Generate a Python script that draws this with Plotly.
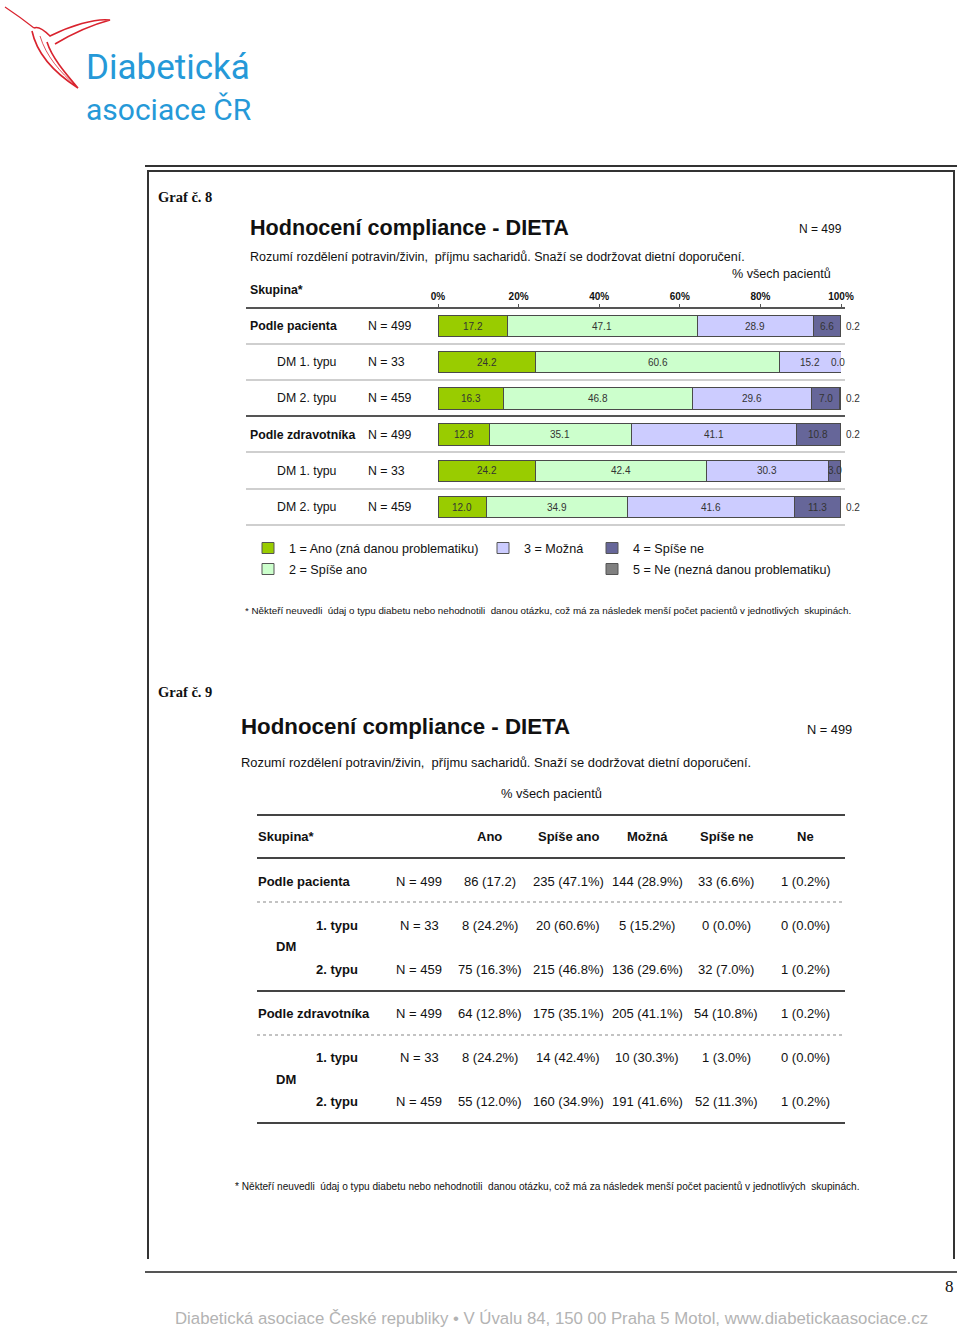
import plotly.graph_objects as go

W, H = 960, 1329
SANS = "Liberation Sans, Arial, sans-serif"
SERIF = "Liberation Serif, Times New Roman, serif"
LOGO = "Roboto, Liberation Sans Narrow, sans-serif"

# ---------------- data ----------------
groups = ["Podle pacienta", "DM 1. typu", "DM 2. typu",
          "Podle zdravotníka", "DM 1. typu", "DM 2. typu"]
group_bold = [True, False, False, True, False, False]
group_n = ["N = 499", "N = 33", "N = 459", "N = 499", "N = 33", "N = 459"]

series_names = ["Ano", "Spíše ano", "Možná", "Spíše ne", "Ne"]
legend_labels = ["1 = Ano (zná danou problematiku)", "2 = Spíše ano", "3 = Možná",
                 "4 = Spíše ne", "5 = Ne (nezná danou problematiku)"]
colors = ["#99CC00", "#CCFFCC", "#CCCCFF", "#666699", "#808080"]

pct_ano = [17.2, 24.2, 16.3, 12.8, 24.2, 12.0]
pct_spise_ano = [47.1, 60.6, 46.8, 35.1, 42.4, 34.9]
pct_mozna = [28.9, 15.2, 29.6, 41.1, 30.3, 41.6]
pct_spise_ne = [6.6, 0.0, 7.0, 10.8, 3.0, 11.3]
pct_ne = [0.2, 0.0, 0.2, 0.2, 0.0, 0.2]

cnt_ano = [86, 8, 75, 64, 8, 55]
cnt_spise_ano = [235, 20, 215, 175, 14, 160]
cnt_mozna = [144, 5, 136, 205, 10, 191]
cnt_spise_ne = [33, 0, 32, 54, 1, 52]
cnt_ne = [1, 0, 1, 1, 0, 1]

tick_vals = [0, 20, 40, 60, 80, 100]
tick_labels = ["0%", "20%", "40%", "60%", "80%", "100%"]

table_groups = ["Podle pacienta", "1. typu", "2. typu", "Podle zdravotníka", "1. typu", "2. typu"]

pcts = [pct_ano, pct_spise_ano, pct_mozna, pct_spise_ne, pct_ne]
cnts = [cnt_ano, cnt_spise_ano, cnt_mozna, cnt_spise_ne, cnt_ne]

# ---------------- helpers ----------------
ann = []
shapes = []


def px(x):
    return x / W


def py(y):
    return 1 - y / H


def text(x, y, s, size, color="#111", anchor="left", family=SANS, bold=False):
    if bold:
        s = "<b>" + s + "</b>"
    if anchor == "left":
        x -= 2
    ann.append(dict(x=px(x), y=py(y), xref="paper", yref="paper", text=s,
                    showarrow=False, xanchor=anchor, yanchor="middle",
                    font=dict(size=size, color=color, family=family)))


def hline(x0, x1, y, color="#444", width=2, dash=None):
    ln = dict(color=color, width=width)
    if dash:
        ln["dash"] = dash
    shapes.append(dict(type="line", xref="paper", yref="paper", x0=px(x0), x1=px(x1),
                       y0=py(y), y1=py(y), line=ln))


def vline(x, y0, y1, color="#444", width=2):
    shapes.append(dict(type="line", xref="paper", yref="paper", x0=px(x), x1=px(x),
                       y0=py(y0), y1=py(y1), line=dict(color=color, width=width)))


def rect(x0, y0, x1, y1, fill, line="#444"):
    shapes.append(dict(type="rect", xref="paper", yref="paper", x0=px(x0), x1=px(x1),
                       y0=py(y1), y1=py(y0), fillcolor=fill, line=dict(color=line, width=1)))


def path(pts_cmd, color="#d9232e", width=1.6):
    shapes.append(dict(type="path", xref="paper", yref="paper", path=pts_cmd,
                       line=dict(color=color, width=width)))


def P(x, y):
    return f"{px(x):.5f},{py(y):.5f}"


# ---------------- figure: stacked bars ----------------
fig = go.Figure()
rows = list(range(len(groups)))
for k, name in enumerate(series_names):
    fig.add_trace(go.Bar(
        y=rows, x=pcts[k], name=name, orientation="h",
        marker=dict(color=colors[k], line=dict(color="#4a4a4a", width=1)),
        width=0.59, showlegend=False, textposition="none", hoverinfo="skip"))

for i in rows:
    cum = 0.0
    for k in range(5):
        v = pcts[k][i]
        if k < 4:
            xs = -3 if (k == 3 and v == 0) else 0
            ann.append(dict(x=cum + v / 2, y=i, xref="x", yref="y", text=f"{v:.1f}",
                            showarrow=False, xanchor="center", yanchor="middle", xshift=xs,
                            font=dict(size=10, color="#333", family=SANS)))
        elif v > 0:
            ann.append(dict(x=cum + v, y=i, xref="x", yref="y", text=f"{v:.1f}",
                            showarrow=False, xanchor="left", yanchor="middle", xshift=3,
                            font=dict(size=10, color="#333", family=SANS)))
        cum += v
    ann.append(dict(x=px((250 if group_bold[i] else 277) - 2), y=i, xref="paper", yref="y",
                    text=("<b>%s</b>" % groups[i]) if group_bold[i] else groups[i],
                    showarrow=False, xanchor="left", yanchor="middle",
                    font=dict(size=12.3, color="#111", family=SANS)))
    ann.append(dict(x=px(366), y=i, xref="paper", yref="y", text=group_n[i],
                    showarrow=False, xanchor="left", yanchor="middle",
                    font=dict(size=12.3, color="#111", family=SANS)))

# ---------------- page frame ----------------
hline(145, 957, 166, color="#333", width=2)
hline(147, 955, 171, color="#333", width=2)
vline(148, 171, 1259, color="#333", width=2)
vline(954, 171, 1259, color="#333", width=2)
hline(145, 957, 1272, color="#555", width=2)
text(949, 1286, "8", 17, color="#111", anchor="center", family=SERIF)
text(551, 1318, "Diabetická asociace České republiky • V Úvalu 84, 150 00 Praha 5 Motol, www.diabetickaasociace.cz",
     16.8, color="#b3b3b3", anchor="center")

# ---------------- logo ----------------
text(86, 67, "Diabetická", 35, color="#2599d8", family=LOGO)
text(86, 110, "asociace ČR", 30, color="#2599d8", family=LOGO)
path("M " + P(5, 7) + " Q " + P(20, 17) + " " + P(34, 28), width=1.2)
path("M " + P(34, 28) + " C " + P(38, 26) + " " + P(44, 30) + " " + P(50, 36)
     + " C " + P(70, 26) + " " + P(95, 18) + " " + P(110, 20)
     + " C " + P(95, 24) + " " + P(75, 32) + " " + P(55, 44), width=1.6)
path("M " + P(32, 31) + " C " + P(36, 50) + " " + P(50, 70) + " " + P(78, 88)
     + " C " + P(66, 74) + " " + P(52, 58) + " " + P(47, 42), width=1.6)
path("M " + P(40, 36) + " C " + P(46, 56) + " " + P(60, 72) + " " + P(76, 86), width=0.8)

# ---------------- Graf 8 texts ----------------
text(158, 197, "Graf č. 8", 14.5, family=SERIF, bold=True)
text(250, 227, "Hodnocení compliance - DIETA", 21.6, bold=True)
text(799, 229, "N = 499", 12)
text(250, 257, "Rozumí rozdělení potravin/živin,  příjmu sacharidů. Snaží se dodržovat dietní doporučení.", 12.5)
text(781, 274, "% všech pacientů", 12.6, anchor="center")
text(250, 290, "Skupina*", 12.3, bold=True)

hline(246, 845, 308, color="#555", width=2)
for yy in [344, 380, 452, 489, 525]:
    hline(246, 845, yy, color="#cfcfcf", width=2)
hline(246, 845, 416, color="#555", width=2)

leg_pos = [(262, 548), (262, 569), (497, 548), (606, 548), (606, 569)]
for k in range(5):
    lx, ly = leg_pos[k]
    rect(lx, ly - 5.5, lx + 12, ly + 5.5, colors[k], line="#555")
    text(lx + 27, ly + 1, legend_labels[k], 12.6)

text(245, 610, "* Někteří neuvedli  údaj o typu diabetu nebo nehodnotili  danou otázku, což má za následek menší počet pacientů v jednotlivých  skupinách.", 9.8)

# ---------------- Graf 9 ----------------
text(158, 692, "Graf č. 9", 14.5, family=SERIF, bold=True)
text(241, 726, "Hodnocení compliance - DIETA", 22.3, bold=True)
text(807, 729, "N = 499", 12.8)
text(241, 762, "Rozumí rozdělení potravin/živin,  příjmu sacharidů. Snaží se dodržovat dietní doporučení.", 12.9)
text(551, 793, "% všech pacientů", 12.9, anchor="center")

hline(257, 845, 815, color="#444", width=2)
hline(257, 845, 858, color="#444", width=2)
hline(257, 845, 902, color="#888", width=1.2, dash="dot")
hline(257, 845, 991, color="#444", width=2)
hline(257, 845, 1035, color="#888", width=1.2, dash="dot")
hline(257, 845, 1123, color="#444", width=2)

col_x = [490, 568, 647, 726, 805]
text(258, 837, "Skupina*", 13, bold=True)
for k, nm in enumerate(series_names):
    text(col_x[k], 837, nm, 13, anchor="center", bold=True)

row_y = [881, 925, 969, 1013, 1057, 1101]
for i in rows:
    if group_bold[i]:
        text(258, row_y[i], table_groups[i], 13, bold=True)
    else:
        text(316, row_y[i], table_groups[i], 13, bold=True)
    text(419, row_y[i], group_n[i], 13, anchor="center")
    for k in range(5):
        c, p = cnts[k][i], pcts[k][i]
        s = f"{c} ({p:.1f})" if (i == 0 and k == 0) else f"{c} ({p:.1f}%)"
        text(col_x[k], row_y[i], s, 13, anchor="center")
text(276, 947, "DM", 13, bold=True)
text(276, 1079, "DM", 13, bold=True)

text(235, 1186, "* Někteří neuvedli  údaj o typu diabetu nebo nehodnotili  danou otázku, což má za následek menší počet pacientů v jednotlivých  skupinách.", 10.1)

# ---------------- layout ----------------
y_top, y_bot = 307.9, 525.1
fig.update_layout(
    width=W, height=H, margin=dict(l=0, r=0, t=0, b=0, pad=0, autoexpand=False),
    paper_bgcolor="white", plot_bgcolor="white",
    barmode="stack", bargap=0.4,
    xaxis=dict(domain=[px(438), px(841)], range=[0, 100], side="top", automargin=False,
               tickvals=tick_vals, ticktext=["<b>%s</b>" % t for t in tick_labels],
               tickfont=dict(size=10, color="#111", family=SANS),
               ticks="outside", ticklen=3, tickcolor="#555",
               showgrid=False, zeroline=False, showline=False, fixedrange=True),
    yaxis=dict(domain=[py(y_bot), py(y_top)], range=[5.5, -0.5], automargin=False,
               showticklabels=False, showgrid=False, zeroline=False, showline=False,
               ticks="", fixedrange=True),
    annotations=ann, shapes=shapes,
)

fig.write_html("out.html", config={"displayModeBar": False},
               post_script="document.body.style.margin='0px';document.body.style.overflow='hidden';")
